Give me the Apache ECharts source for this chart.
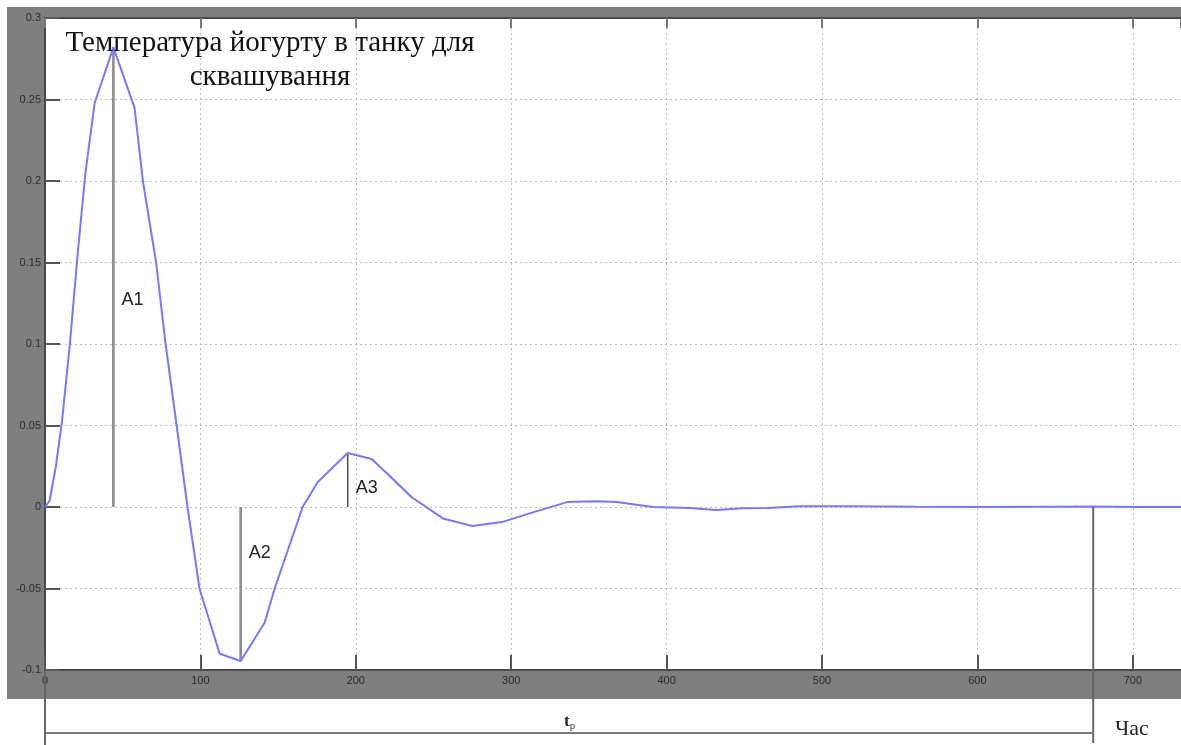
<!DOCTYPE html>
<html>
<head>
<meta charset="utf-8">
<script src="https://cdn.jsdelivr.net/npm/echarts@6/dist/echarts.min.js"></script>
<style>
  html, body { margin: 0; padding: 0; background: #fff; }
  #chart { width: 1181px; height: 745px; }
</style>
</head>
<body>
<div id="chart"></div>
<script>
// Transient response of the yoghurt temperature in the fermentation tank
const timeSec = [0, 3, 7, 11, 16, 21, 26, 32, 44, 57.6, 63, 71.5, 77.6, 84.7, 91.7, 99.4,
  112.4, 125.9, 141.3, 147.8, 165.8, 175.5, 194.8, 210.2, 223, 236, 256, 275, 295, 315,
  336, 355, 368, 391, 415, 432, 449, 465, 486, 520, 560, 600, 650, 675, 700, 731];
const tempDev = [0, 0.004, 0.025, 0.053, 0.1, 0.155, 0.205, 0.248, 0.282, 0.245, 0.2, 0.15,
  0.1, 0.05, 0, -0.05, -0.09, -0.0945, -0.071, -0.05, 0, 0.0153, 0.0331, 0.0294, 0.018,
  0.006, -0.007, -0.0117, -0.009, -0.003, 0.003, 0.0035, 0.003, 0, -0.0006, -0.0018,
  -0.0008, -0.0006, 0.0005, 0.0004, 0.0001, 0, 0.0002, 0.0003, 0, 0];

// Amplitude markers: time of extremum and its value
const ampNames = ['A1', 'A2', 'A3'];
const ampTime = [44, 125.9, 194.8];
const ampValue = [0.282, -0.0945, 0.0331];
// Settling time
const settleTime = 674.5;

const xTicks = { min: 0, max: 731, interval: 100 };
const yTicks = { min: -0.1, max: 0.3, interval: 0.05 };

const titleLines = ['Температура йогурту в танку для', 'сквашування'];

const chart = echarts.init(document.getElementById('chart'), null, { renderer: 'canvas' });

const curve = timeSec.map((t, i) => [t, tempDev[i]]);
const ampSeries = ampNames.map((n, i) => ({
  type: 'line',
  name: n,
  data: [[ampTime[i], 0], [ampTime[i], ampValue[i]]],
  symbol: 'none',
  lineStyle: { color: i === 2 ? '#555' : '#8c8c8c', width: i === 2 ? 1.6 : 2.6 },
  z: 2,
  silent: true
}));

const axisCommon = {
  axisLine: { show: true, onZero: false, lineStyle: { color: '#4a4a4a', width: 2 } },
  axisTick: { show: true, inside: true, length: 15, lineStyle: { color: '#555', width: 2 } },
  splitLine: { show: true, lineStyle: { color: '#bdbdbd', type: [2, 3], width: 1 } }
};

const GRID = { left: 45, right: 0, top: 18, bottom: 75 };

chart.setOption({
  animation: false,
  backgroundColor: '#fff',
  grid: Object.assign({ show: false }, GRID),
  xAxis: [
    Object.assign({}, axisCommon, {
      type: 'value', position: 'bottom',
      min: xTicks.min, max: xTicks.max, interval: xTicks.interval,
      axisLabel: { show: true, showMaxLabel: false, margin: 5, fontSize: 11, color: '#2a2a2a', fontFamily: 'Liberation Sans' }
    }),
    Object.assign({}, axisCommon, {
      type: 'value', position: 'top',
      min: xTicks.min, max: xTicks.max, interval: xTicks.interval,
      axisTick: { show: true, inside: true, length: 10, lineStyle: { color: '#777', width: 2 } },
      axisLabel: { show: false },
      splitLine: { show: false }
    })
  ],
  yAxis: Object.assign({}, axisCommon, {
    type: 'value',
    min: yTicks.min, max: yTicks.max, interval: yTicks.interval,
    axisLabel: { margin: 4, fontSize: 11, color: '#2a2a2a', fontFamily: 'Liberation Sans' }
  }),
  series: [
    {
      type: 'line',
      data: curve,
      symbol: 'none',
      smooth: false,
      lineStyle: { color: '#7878ff', width: 2 },
      z: 3
    }
  ].concat(ampSeries)
});

// Annotations placed from data coordinates
const px = (x, y) => chart.convertToPixel({ gridIndex: 0 }, [x, y]);
const origin = px(0, 0);
const settle = px(settleTime, 0);
const topLeft = px(xTicks.min, yTicks.max);
const botRight = px(xTicks.max, yTicks.min);
const axisBottom = botRight[1];
const dimY = 733;

const graphics = [
  // figure frame and white plotting area behind the axes
  { type: 'rect', shape: { x: 7, y: 7, width: 1174, height: 692 }, style: { fill: '#7f7f7f' }, z: -10, silent: true },
  { type: 'rect', shape: { x: topLeft[0], y: topLeft[1], width: botRight[0] - topLeft[0], height: botRight[1] - topLeft[1] }, style: { fill: '#fff' }, z: -9, silent: true },
  // title
  {
    type: 'text', x: 270, y: 26, z: 20,
    style: {
      text: titleLines[0] + '\n' + titleLines[1],
      font: '29px "Liberation Serif"', fill: '#111', align: 'center', lineHeight: 34
    }
  },
  // settling time dimension
  { type: 'line', shape: { x1: origin[0], y1: axisBottom, x2: origin[0], y2: 745 }, style: { stroke: '#666', lineWidth: 2 }, z: 20 },
  { type: 'line', shape: { x1: settle[0], y1: settle[1], x2: settle[0], y2: 743 }, style: { stroke: '#666', lineWidth: 2 }, z: 20 },
  { type: 'line', shape: { x1: origin[0], y1: dimY, x2: settle[0], y2: dimY }, style: { stroke: '#777', lineWidth: 2 }, z: 20 },
  {
    type: 'text', x: (origin[0] + settle[0]) / 2 - 5, y: 722, z: 20,
    style: {
      text: '{t|t}{s|р}', verticalAlign: 'middle',
      rich: { t: { font: 'bold 17px "Liberation Serif"', fill: '#222' }, s: { font: '11px "Liberation Serif"', fill: '#333', padding: [8, 0, 0, 0] } }
    }
  },
  { type: 'text', x: 1115, y: 729, z: 20, style: { text: 'Час', font: '22px "Liberation Serif"', fill: '#222', verticalAlign: 'middle' } }
];

// A1..A3 labels beside their marker lines
const labelValues = [0.127, -0.028, 0.0117];
ampNames.forEach((n, i) => {
  const p = px(ampTime[i], labelValues[i]);
  graphics.push({
    type: 'text', x: p[0] + 8, y: p[1], z: 20,
    style: { text: n, font: '18px "Liberation Sans"', fill: '#222', verticalAlign: 'middle' }
  });
});

chart.setOption({ graphic: graphics });
</script>
</body>
</html>
